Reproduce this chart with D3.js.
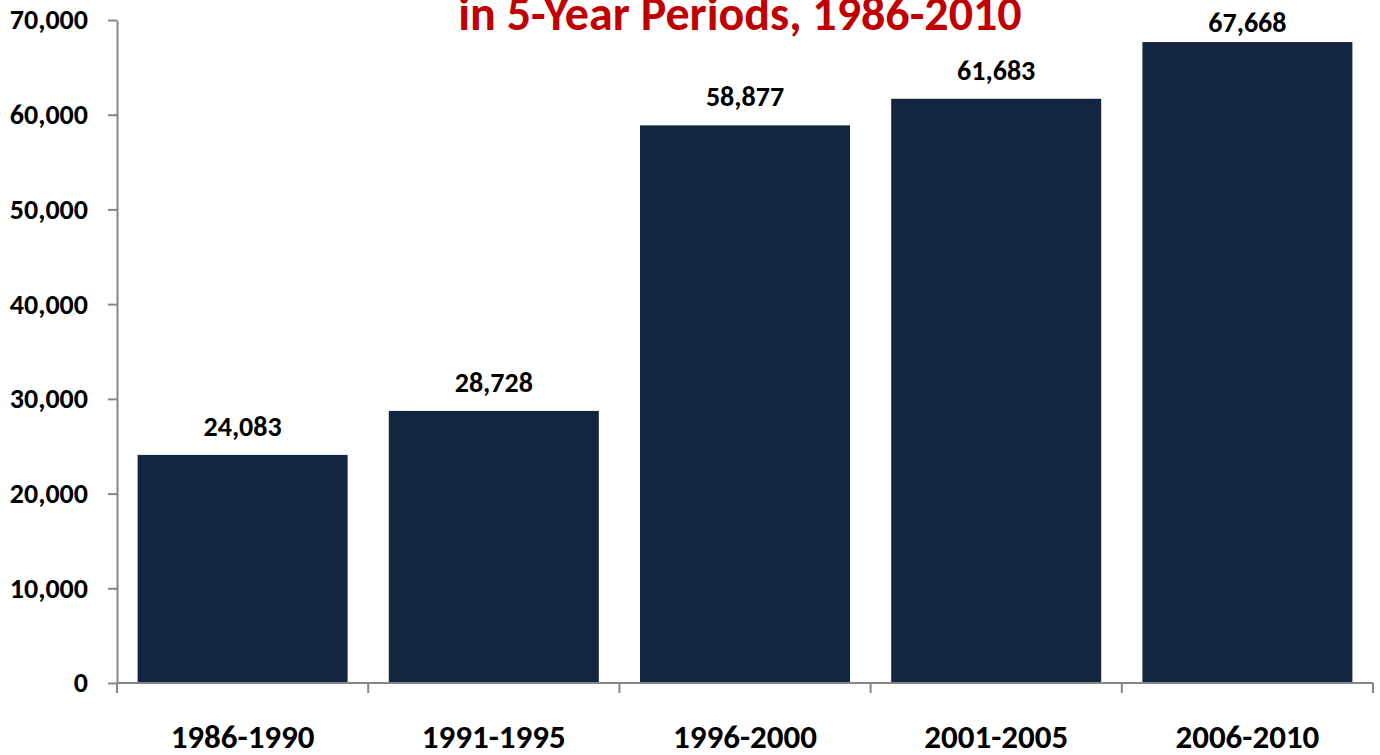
<!DOCTYPE html>
<html>
<head>
<meta charset="utf-8">
<script src="https://cdn.jsdelivr.net/npm/d3@7/dist/d3.min.js"></script>
<style>
  html, body { margin: 0; padding: 0; background: #fff; }
  svg { display: block; }
  text { font-family: Carlito, Calibri, "Open Sans", sans-serif; font-weight: bold; }
</style>
</head>
<body>
<svg id="chart" width="1380" height="755"></svg>
<script>
// Five-year periods and the totals recorded in each
const periods = ["1986-1990", "1991-1995", "1996-2000", "2001-2005", "2006-2010"];
const totals = [24083, 28728, 58877, 61683, 67668];
const yTicks = [0, 10000, 20000, 30000, 40000, 50000, 60000, 70000];
const titleLine = "in 5-Year Periods, 1986-2010";

const svg = d3.select("#chart");
const plotLeft = 117, plotRight = 1373, plotTop = 20, plotBottom = 683;
const axisColor = "#868686";
const barColor = "#14263F";

const x = d3.scaleBand()
  .domain(periods)
  .range([plotLeft, plotRight])
  .paddingInner(0.164)
  .paddingOuter(0.082);

const y = d3.scaleLinear()
  .domain([0, 70000])
  .range([plotBottom, plotTop]);

const fmt = d3.format(",");

// Bars
svg.append("g")
  .selectAll("rect")
  .data(periods)
  .join("rect")
  .attr("x", d => x(d))
  .attr("width", x.bandwidth())
  .attr("y", (d, i) => y(totals[i]))
  .attr("height", (d, i) => y(0) - y(totals[i]))
  .attr("fill", barColor);

// Value labels above bars, kept inside the top of the plot
svg.append("g")
  .selectAll("text")
  .data(periods)
  .join("text")
  .attr("x", d => x(d) + x.bandwidth() / 2)
  .attr("y", (d, i) => Math.max(y(totals[i]) - 19, plotTop + 12))
  .attr("text-anchor", "middle")
  .attr("font-size", 28)
  .attr("fill", "#000")
  .text((d, i) => fmt(totals[i]));

// Y axis
const yAxis = svg.append("g")
  .attr("transform", `translate(${plotLeft},0)`)
  .call(d3.axisLeft(y).tickValues(yTicks).tickFormat(fmt).tickSize(9).tickSizeOuter(0).tickPadding(20));
yAxis.attr("font-family", null).attr("font-size", null);
yAxis.select(".domain").attr("stroke", axisColor).attr("stroke-width", 2);
yAxis.selectAll(".tick line").attr("stroke", axisColor).attr("stroke-width", 2);
yAxis.selectAll(".tick text")
  .attr("font-size", 28)
  .attr("fill", "#000")
  .attr("dy", "0.32em");

// X axis line with tick marks at band boundaries
const step = x.step();
const gap = (step - x.bandwidth()) / 2;
const boundaries = periods.map(d => x(d) - gap)
  .concat([x(periods[periods.length - 1]) + x.bandwidth() + gap]);
const xAxis = svg.append("g");
xAxis.append("line")
  .attr("x1", plotLeft).attr("x2", plotRight)
  .attr("y1", y(0)).attr("y2", y(0))
  .attr("stroke", axisColor).attr("stroke-width", 2);
xAxis.selectAll(".xtick")
  .data(boundaries)
  .join("line")
  .attr("class", "xtick")
  .attr("x1", d => d).attr("x2", d => d)
  .attr("y1", y(0)).attr("y2", y(0) + 10)
  .attr("stroke", axisColor).attr("stroke-width", 2);
xAxis.selectAll(".xlabel")
  .data(periods)
  .join("text")
  .attr("class", "xlabel")
  .attr("x", d => x(d) + x.bandwidth() / 2)
  .attr("y", 748)
  .attr("text-anchor", "middle")
  .attr("font-size", 33)
  .attr("fill", "#000")
  .text(d => d);

// Title line
svg.append("text")
  .attr("x", 740)
  .attr("y", 30)
  .attr("text-anchor", "middle")
  .attr("font-size", 48)
  .attr("fill", "#C00000")
  .text(titleLine);
</script>
</body>
</html>
